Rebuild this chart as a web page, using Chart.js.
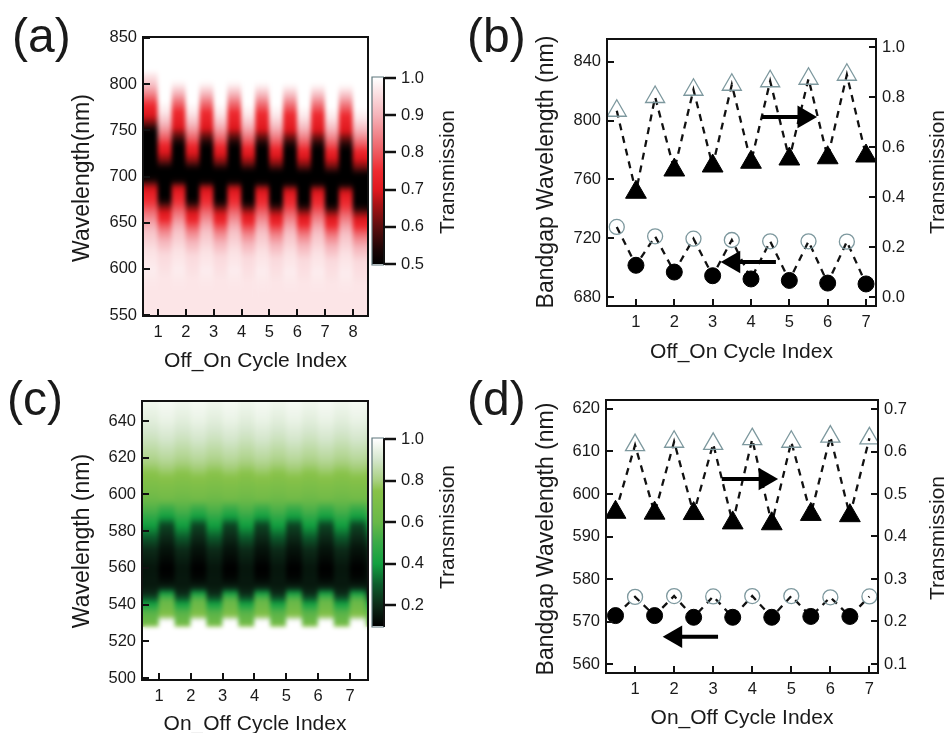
<!DOCTYPE html>
<html><head><meta charset="utf-8">
<style>
html,body{margin:0;padding:0;background:#fff;width:947px;height:733px;overflow:hidden}
#page{position:relative;width:947px;height:733px;overflow:hidden;filter:blur(.35px)}
canvas{position:absolute}
.lab{position:absolute;font:48px "Liberation Sans",Arial,sans-serif;color:#1a1a1a;line-height:56px}
.rot{position:absolute;width:300px;height:26px;line-height:26px;text-align:center;font:21px "Liberation Sans",Arial,sans-serif;color:#1a1a1a;transform:translate(-50%,-50%) rotate(-90deg)}
.big{font-size:23px}
</style>
<script src="https://cdn.jsdelivr.net/npm/chart.js@4"></script>
</head><body><div id="page">
<div class="lab" style="left:12px;top:8px">(a)</div>
<div class="lab" style="left:467px;top:8px">(b)</div>
<div class="lab" style="left:7px;top:371px">(c)</div>
<div class="lab" style="left:467px;top:371px">(d)</div>
<div class="rot" style="left:448px;top:172px">Transmission</div>
<div class="rot" style="left:448px;top:527px">Transmission</div>
<div class="rot" style="left:938px;top:172px">Transmission</div>
<div class="rot" style="left:938px;top:538px">Transmission</div>
<div class="rot big" style="left:545px;top:172px">Bandgap Wavelength (nm)</div>
<div class="rot big" style="left:545px;top:539px">Bandgap Wavelength (nm)</div>
<div class="rot big" style="left:81px;top:178px">Wavelength(nm)</div>
<div class="rot big" style="left:81px;top:541px">Wavelength (nm)</div>
</div>
<script>
// ---------- panel (a) heat map profiles
const wlFirstOffA=[851,815,810,800,790,780,772,765,758,752,748,702,697,693,688,680,670,660,650,640,620,600,575,549];
const tFirstOffA =[1,1,.97,.92,.85,.77,.72,.69,.62,.54,.5,.5,.52,.6,.68,.73,.77,.83,.88,.92,.96,.975,.965,.965];
const wlOffA=[851,805,800,790,780,770,760,752,745,738,732,700,695,692,688,680,670,660,650,640,620,600,575,549];
const tOffA =[1,1,.98,.9,.82,.75,.72,.69,.61,.54,.5,.5,.52,.6,.68,.73,.77,.83,.88,.92,.96,.975,.965,.965];
const wlOnA=[851,782,770,760,750,740,732,725,718,712,708,678,672,668,662,655,648,640,630,615,590,549];
const tOnA =[1,1,.97,.92,.86,.79,.73,.69,.63,.55,.5,.5,.55,.62,.69,.73,.79,.85,.9,.95,.965,.965];
const shiftsA=[0,0,0,-1,-1,-2,-1,-3,-2,-4,-3,-5,-3,-6,-4,-7];
const ticksAx=[1,2,3,4,5,6,7,8];
const ticksAy=[550,600,650,700,750,800,850];
const ticksBarA=[.5,.6,.7,.8,.9,1];
const cmapAv=[.5,.54,.6,.66,.7,.75,.8,.9,1];
const cmapAc=['#000000','#1c0505','#5c0e0e','#a81214','#e0181e','#ee2a30','#ee5a60','#f5b4ba','#ffffff'];
// ---------- panel (c) heat map profiles
const wlLightC=[651,640,630,620,610,600,590,585,580,575,570,560,550,546,543,540,536,530,528,527.5,499];
const tLightC =[.97,.93,.88,.82,.74,.65,.52,.43,.35,.27,.2,.15,.16,.2,.3,.42,.56,.62,.8,1,1];
const wlDarkC=[651,640,630,620,608,598,594,589,586,583,571,560,555,551,549,547,545,542,537,534,532,531,499];
const tDarkC =[.98,.95,.9,.84,.74,.65,.54,.43,.35,.25,.15,.1,.11,.15,.2,.34,.48,.6,.66,.74,.9,1,1];
const ticksCx=[1,2,3,4,5,6,7];
const ticksCy=[500,520,540,560,580,600,620,640];
const ticksBarC=[.2,.4,.6,.8,1];
const cmapCv=[.1,.2,.3,.4,.5,.6,.75,.8,.9,1];
const cmapCc=['#000000','#0c2a18','#0c5c2c','#12a040','#38aa48','#68b848','#88c248','#a8d080','#d4e6cc','#ffffff'];
// ---------- panel (b) points
const bUpX=[.5,1.5,2.5,3.5,4.5,5.5,6.5];
const bDownX=[1,2,3,4,5,6,7];
const bTriHollow=[.745,.80,.829,.849,.863,.873,.889];
const bTriFilled=[.419,.508,.524,.539,.552,.557,.564];
const bCircHollow=[727.7,721.3,719.7,718.8,717.9,717.9,717.7];
const bCircFilled=[701.6,697,694.5,692.3,691.3,689.5,688.9];
const bTicksLeft=[680,720,760,800,840];
const bTicksRight=[0,.2,.4,.6,.8,1];
// ---------- panel (d) points
const dFilledX=[.5,1.5,2.5,3.5,4.5,5.5,6.5];
const dHollowX=[1,2,3,4,5,6,7];
const dTriFilled=[.457,.455,.454,.432,.430,.452,.449];
const dTriHollow=[.615,.623,.618,.629,.623,.635,.631];
const dCircFilled=[571.4,571.4,571,571,571,571.2,571.2];
const dCircHollow=[575.8,576,575.9,576,576,575.7,575.9];
const dTicksLeft=[560,570,580,590,600,610,620];
const dTicksRight=[.1,.2,.3,.4,.5,.6,.7];
const cycleTicks=[1,2,3,4,5,6,7];

const FONT='"Liberation Sans",Arial,sans-serif', INK='#1a1a1a';
const page=document.getElementById('page');
const mk=(L,T,W,H)=>{const c=document.createElement('canvas');c.width=W;c.height=H;c.style.left=L+'px';c.style.top=T+'px';c.style.width=W+'px';c.style.height=H+'px';page.appendChild(c);return c;};

function lerpColor(v,vals,cols){
  if(v<=vals[0])return cols[0];
  for(let i=1;i<vals.length;i++){
    if(v<=vals[i]){
      const f=(v-vals[i-1])/(vals[i]-vals[i-1]);
      const p=h=>[1,3,5].map(k=>parseInt(h.substr(k,2),16));
      const a=p(cols[i-1]),b=p(cols[i]);
      return `rgb(${a.map((x,j)=>Math.round(x+(b[j]-x)*f)).join(',')})`;
    }
  }
  return cols[cols.length-1];
}
function profileGradient(ctx,sc,wl,t,shift,vals,cols){
  const top=sc.getPixelForValue(sc.max),bot=sc.getPixelForValue(sc.min);
  const g=ctx.createLinearGradient(0,top,0,bot);
  for(let i=0;i<wl.length-1;i++){
    for(let k=0;k<6;k++){
      const f=k/6,w=wl[i]+(wl[i+1]-wl[i])*f+shift,v=t[i]+(t[i+1]-t[i])*f;
      const o=(sc.getPixelForValue(w)-top)/(bot-top);
      if(o>=0&&o<=1)g.addColorStop(o,lerpColor(v,vals,cols));
    }
  }
  const o=(sc.getPixelForValue(wl[wl.length-1]+shift)-top)/(bot-top);
  if(o>=0&&o<=1)g.addColorStop(o,lerpColor(t[t.length-1],vals,cols));
  return g;
}
const framePlugin=(color)=>({id:'frame',afterDraw(ch){const a=ch.chartArea,c=ch.ctx;c.save();c.strokeStyle=color||'#111';c.lineWidth=2;c.strokeRect(a.left,a.top,a.right-a.left,a.bottom-a.top);c.restore();}});
const softPlugin={id:'soft',afterDatasetsDraw(ch){const a=ch.chartArea,c=ch.ctx,w=a.right-a.left,h=a.bottom-a.top;c.save();c.beginPath();c.rect(a.left,a.top,w,h);c.clip();c.filter='blur(2.2px)';c.drawImage(ch.canvas,a.left,a.top,w,h,a.left,a.top,w,h);c.restore();}};

function axis(pos,min,max,ticks,size,titleText,pad,fmt,extra){
  return Object.assign({type:'linear',position:pos,min,max,offset:false,
    afterBuildTicks:s=>{s.ticks=ticks.map(v=>({value:v}));},
    afterFit:s=>{if(pos==='bottom'||pos==='top')s.height=size;else s.width=size;s.paddingTop=s.paddingBottom=s.paddingLeft=s.paddingRight=0;},
    grid:{drawOnChartArea:false,drawTicks:true,tickLength:-7,tickColor:'#111',tickWidth:2,color:'#111',lineWidth:2,z:1,offset:false},
    border:{display:true,color:'#111',width:2,z:1},
    ticks:{autoSkip:false,maxRotation:0,minRotation:0,padding:pad,color:INK,font:{family:FONT,size:16.5},includeBounds:false,callback:fmt||(v=>String(v))},
    title:{display:!!titleText,text:titleText,color:INK,font:{family:FONT,size:21},padding:{top:0,bottom:0}}
  },extra||{});
}
function placed(L,T,W,H,area,cfg){
  cfg.options=Object.assign({responsive:false,animation:false,devicePixelRatio:1,
    plugins:{legend:{display:false},tooltip:{enabled:false}},
    layout:{autoPadding:false,padding:{top:area[1]-T,right:cfg.hasRight?0:L+W-area[2],left:0,bottom:0}}},cfg.options);
  return new Chart(mk(L,T,W,H),cfg);
}
function heatPanel(box,area,xr,yr,xt,yt,xTitle,cols,vals,colors){
  const [L,T,W,H]=box;
  placed(L,T,W,H,area,{type:'bar',
    data:{datasets:[{
      data:cols.map(c=>({x:c.x,y:[yr[0],yr[1]]})),
      barPercentage:1,categoryPercentage:1,borderWidth:0,
      backgroundColor(ctx){
        const ch=ctx.chart;if(!ch.chartArea||ctx.dataIndex===undefined)return '#fff';
        const c=cols[ctx.dataIndex];
        return profileGradient(ch.ctx,ch.scales.y,c.wl,c.t,c.shift,vals,colors);
      }}]},
    options:{scales:{
      x:axis('bottom',xr[0],xr[1],xt,T+H-area[3],xTitle,14),
      y:axis('left',yr[0],yr[1],yt,area[0]-L,'',13)
    }},
    plugins:[softPlugin,framePlugin()]});
}
function colorBar(box,area,range,tks,vals,colors){
  const [L,T,W,H]=box;
  new Chart(mk(L,T,W,H),{type:'bar',
    data:{labels:['bar'],datasets:[{data:[[range[0],range[1]]],barPercentage:1,categoryPercentage:1,borderWidth:0,
      backgroundColor(ctx){
        const ch=ctx.chart;if(!ch.chartArea)return '#fff';
        const s=ch.scales.y,g=ch.ctx.createLinearGradient(0,s.getPixelForValue(range[1]),0,s.getPixelForValue(range[0]));
        vals.forEach((v,i)=>g.addColorStop((range[1]-v)/(range[1]-range[0]),colors[i]));
        return g;
      }}]},
    options:{responsive:false,animation:false,devicePixelRatio:1,
      layout:{autoPadding:false,padding:{top:area[1]-T,bottom:T+H-area[3],left:area[0]-L,right:0}},
      plugins:{legend:{display:false},tooltip:{enabled:false}},
      scales:{
        x:{type:'category',display:false},
        y:Object.assign(axis('right',range[0],range[1],tks,L+W-area[2],'',5,v=>v.toFixed(1)),{
          grid:{drawOnChartArea:false,drawTicks:true,tickLength:12,tickColor:'#111',tickWidth:2.5,color:'#111',lineWidth:2,z:1}})
      }},
    plugins:[{id:'barFrame',afterDraw(ch){const a=ch.chartArea,c=ch.ctx;c.save();c.strokeStyle='#5f777c';c.lineWidth=1.2;c.beginPath();c.moveTo(a.right,a.top-1);c.lineTo(a.left,a.top-1);c.lineTo(a.left,a.bottom+1);c.lineTo(a.right,a.bottom+1);c.stroke();c.restore();}}]});
}
function merged(xa,ya,xb,yb){
  return xa.map((x,i)=>({x,y:ya[i]})).concat(xb.map((x,i)=>({x,y:yb[i]}))).sort((p,q)=>p.x-q.x);
}
const pts=(xs,ys)=>xs.map((x,i)=>({x,y:ys[i]}));
function dashed(data,yAxisID){return {type:'scatter',showLine:true,data,yAxisID,borderColor:'#111',borderWidth:2.3,borderDash:[7,6],pointRadius:0,order:3};}
function markers(data,yAxisID,style,r,filled){return {type:'scatter',showLine:false,data,yAxisID,pointStyle:style,pointRadius:r,
  pointBackgroundColor:filled?'#000':'rgba(0,0,0,0)',pointBorderColor:filled?'#000':'#7d989e',pointBorderWidth:filled?1:1.3,order:1};}
function arrow(data,yAxisID){return {type:'scatter',showLine:true,data,yAxisID,borderColor:'#000',borderWidth:4,order:0,
  pointStyle:'triangle',pointRadius:[0,13],pointRotation:data[1].x>data[0].x?90:-90,pointBackgroundColor:'#000',pointBorderColor:'#000',pointBorderWidth:0};}
function pointPanel(box,area,xr,yL,yR,tL,tR,xTitle,sets){
  const [L,T,W,H]=box;
  placed(L,T,W,H,area,{type:'scatter',hasRight:true,data:{datasets:sets},
    options:{scales:{
      x:axis('bottom',xr[0],xr[1],cycleTicks,T+H-area[3],xTitle,14),
      y:axis('left',yL[0],yL[1],tL,area[0]-L,'',13),
      y1:axis('right',yR[0],yR[1],tR,L+W-area[2],'',13,v=>v.toFixed(1))
    }},
    plugins:[framePlugin()]});
}
// panel a
const colsA=[];
for(let i=0;i<16;i++){
  const on=i%2===1;
  colsA.push({x:.75+i*.5,wl:i===0?wlFirstOffA:(on?wlOnA:wlOffA),t:i===0?tFirstOffA:(on?tOnA:tOffA),shift:shiftsA[i]});
}
heatPanel([68,30,304,344],[143,37,368,316],[.462,8.538],[549,851],ticksAx,ticksAy,'Off_On Cycle Index',colsA,cmapAv,cmapAc);
colorBar([360,60,100,220],[372,78,384,264],[.5,1],ticksBarA,cmapAv,cmapAc);
// panel c
const colsC=[];
for(let i=0;i<15;i++){
  const dark=i%2===1;
  colsC.push({x:.75+i*.5,wl:dark?wlDarkC:wlLightC,t:dark?tDarkC:tLightC,shift:0});
}
heatPanel([68,394,304,343],[142,401,368,680],[.466,7.566],[498.9,650.9],ticksCx,ticksCy,'On_Off Cycle Index',colsC,cmapCv,cmapCc);
colorBar([360,420,100,220],[372,439,384,626],[.1,1],ticksBarC,cmapCv,cmapCc);
// panel b
pointPanel([532,30,375,335],[607,39,876,306],[.245,7.26],[673.9,855.6],[-.036,1.032],bTicksLeft,bTicksRight,'Off_On Cycle Index',[
  dashed(merged(bUpX,bTriHollow,bDownX,bTriFilled),'y1'),
  dashed(merged(bUpX,bCircHollow,bDownX,bCircFilled),'y'),
  markers(pts(bUpX,bTriHollow),'y1','triangle',11,false),
  markers(pts(bDownX,bTriFilled),'y1','triangle',12,true),
  markers(pts(bUpX,bCircHollow),'y','circle',7.5,false),
  markers(pts(bDownX,bCircFilled),'y','circle',8,true),
  arrow([{x:4.287,y:802.6},{x:5.383,y:802.6}],'y'),
  arrow([{x:4.65,y:703.8},{x:3.55,y:703.8}],'y')
]);
// panel d
pointPanel([532,394,375,337],[606,400,878,673],[.256,7.22],[557.9,622.1],[.0788,.7212],dTicksLeft,dTicksRight,'On_Off Cycle Index',[
  dashed(merged(dFilledX,dTriFilled,dHollowX,dTriHollow),'y1'),
  dashed(merged(dFilledX,dCircFilled,dHollowX,dCircHollow),'y'),
  markers(pts(dHollowX,dTriHollow),'y1','triangle',11,false),
  markers(pts(dFilledX,dTriFilled),'y1','triangle',12,true),
  markers(pts(dHollowX,dCircHollow),'y','circle',7.5,false),
  markers(pts(dFilledX,dCircFilled),'y','circle',8,true),
  arrow([{x:3.22,y:603.5},{x:4.33,y:603.5}],'y'),
  arrow([{x:3.125,y:566.4},{x:2.04,y:566.4}],'y')
]);
</script></body></html>
